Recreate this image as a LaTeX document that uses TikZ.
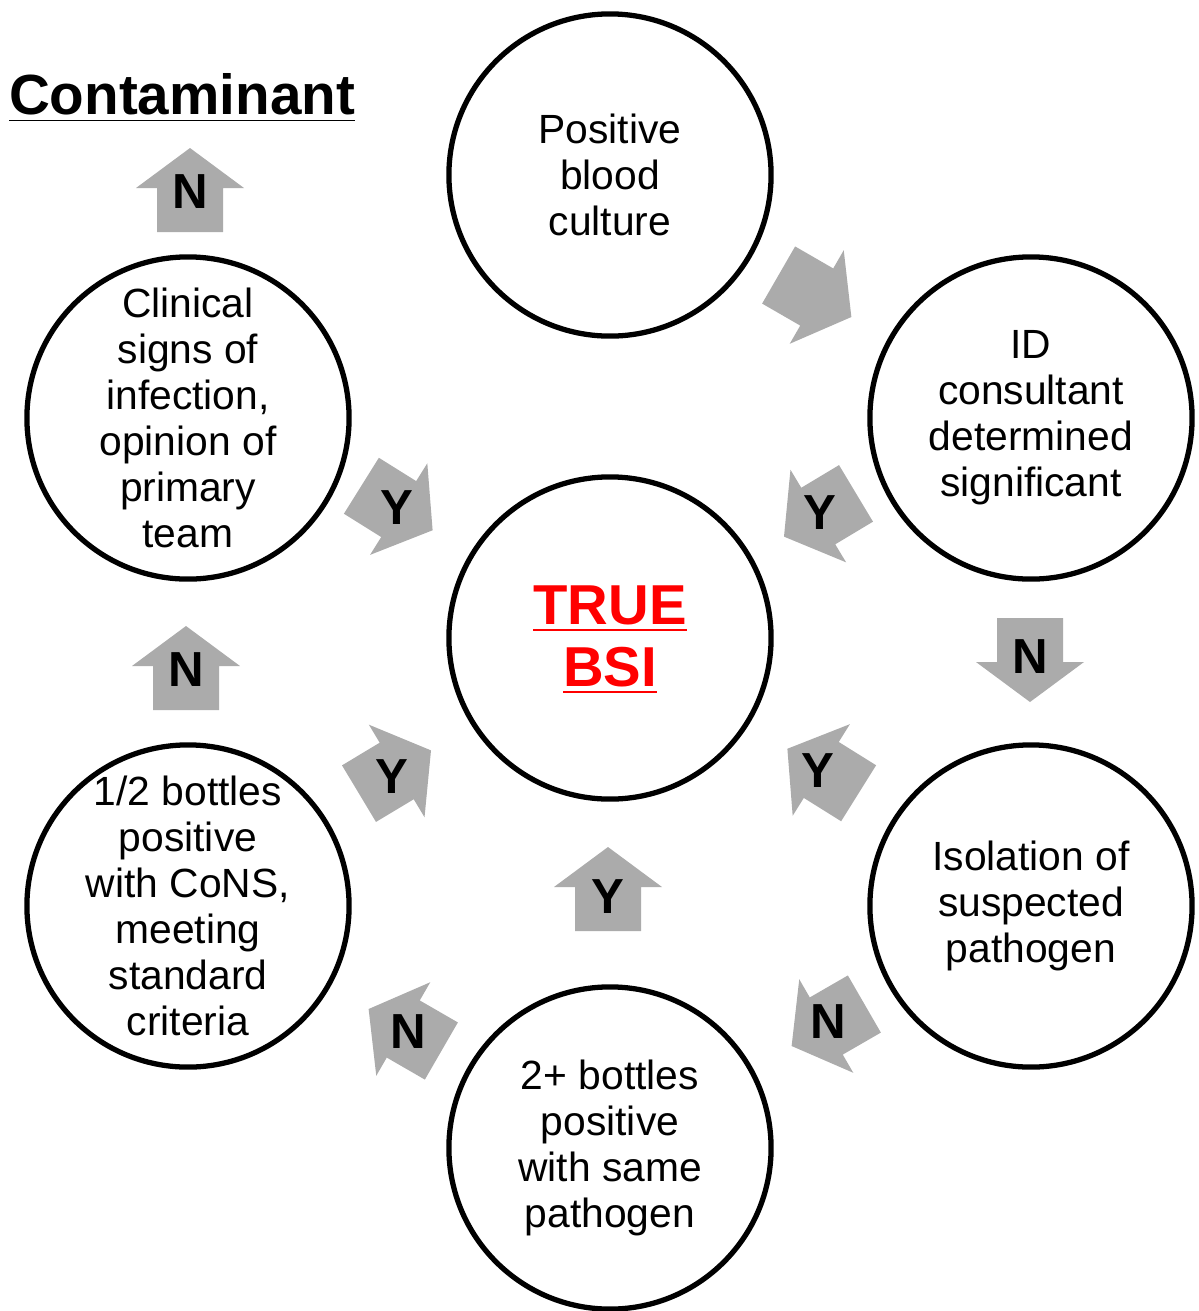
\documentclass[tikz,border=0pt]{standalone}
\usepackage{fontspec}
\setmainfont{Liberation Sans}
\definecolor{arrowgray}{RGB}{171,171,171}
\definecolor{bsired}{RGB}{255,0,0}
\tikzset{
  blockarr/.pic={
    \fill[arrowgray] (-42,-33) -- (2,-33) -- (2,-54) -- (42,0) -- (2,54) -- (2,33) -- (-42,33) -- cycle;
  }
}

\begin{document}
\begin{tikzpicture}[x=0.01cm,y=-0.01cm,
  bubble/.style={circle,draw,line width=1.5pt,minimum size=3.22cm,inner sep=0pt},
  txt/.style={align=center,font=\fontsize{11.6}{13.1}\selectfont},
  lett/.style={inner sep=0pt,font=\fontsize{14}{16}\selectfont\bfseries}]
\useasboundingbox (0,0) rectangle (1199,1311);
% circles
\node[bubble] (pbc) at (610,175) {};
\node[bubble] (idc) at (1031,418) {};
\node[bubble] (bsi) at (610,638) {};
\node[bubble] (iso) at (1031,906) {};
\node[bubble] (two) at (610,1148) {};
\node[bubble] (half) at (188,906) {};
\node[bubble] (clin) at (188,418) {};
% texts
\node[txt] (pbct) at (pbc) {Positive\\blood\\culture};
\node[txt] (idct) at (idc) {ID\\consultant\\determined\\significant};
\node[txt] (isot) at (iso) {Isolation of\\suspected\\pathogen};
\node[txt] (twot) at (two) {2+ bottles\\positive\\with same\\pathogen};
\node[txt] (halft) at (half) {1/2 bottles\\positive\\with CoNS,\\meeting\\standard\\criteria};
\node[txt] (clint) at (clin) {Clinical\\signs of\\infection,\\opinion of\\primary\\team};
\node[align=center,text=bsired,font=\fontsize{16}{17.6}\selectfont\bfseries] (bsit) at (610,640)
  {\underline{TRUE}\\\underline{BSI}};
\node[font=\fontsize{16.1}{18}\selectfont\bfseries] (cont) at (182,98) {\underline{Contaminant}};
% arrows
\pic[rotate=-30] at (815,296) {blockarr};
\pic[rotate=90] at (190,190) {blockarr};
\pic[rotate=-32] at (397,508) {blockarr};
\pic[rotate=-149] at (820,515) {blockarr};
\pic[rotate=-90] at (1030,660) {blockarr};
\pic[rotate=148] at (823,771) {blockarr};
\pic[rotate=-150] at (828,1025) {blockarr};
\pic[rotate=90] at (608,889) {blockarr};
\pic[rotate=150] at (405,1030) {blockarr};
\pic[rotate=31] at (395,772) {blockarr};
\pic[rotate=90] at (186,668) {blockarr};
% letters
\node[lett] (n1) at (190,192) {N};
\node[lett] (y1) at (397,508) {Y};
\node[lett] (y2) at (820,513) {Y};
\node[lett] (n2) at (1030,657) {N};
\node[lett] (y3) at (818,771) {Y};
\node[lett] (n3) at (828,1022) {N};
\node[lett] (y4) at (608,897) {Y};
\node[lett] (n4) at (408,1032) {N};
\node[lett] (y5) at (392,777) {Y};
\node[lett] (n5) at (186,670) {N};
\end{tikzpicture}
\end{document}
